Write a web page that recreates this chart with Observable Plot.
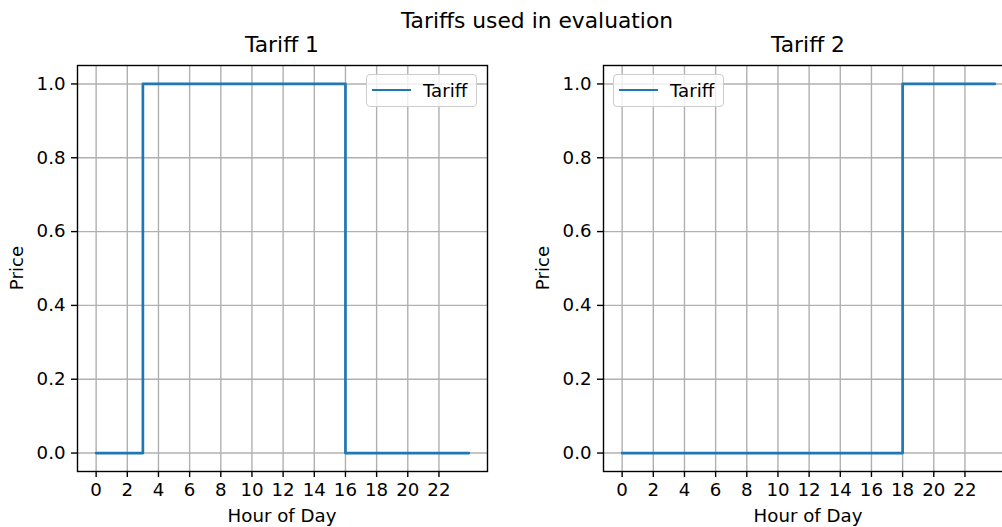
<!DOCTYPE html>
<html><head><meta charset="utf-8">
<script src="https://cdn.jsdelivr.net/npm/d3@7"></script>
<script src="https://cdn.jsdelivr.net/npm/@observablehq/plot@0.6"></script>
<style>
body{margin:0;background:#fff;}
#fig{position:relative;width:1002px;height:527px;overflow:hidden;font-family:"DejaVu Sans",sans-serif;color:#000;background:#fff;}
.t{position:absolute;white-space:nowrap;transform:translate(-50%,-50%);line-height:1;}
.panel{position:absolute;top:0;width:500px;height:527px;}
.panel svg{max-width:none !important;width:500px;height:527px;}
.legend{position:absolute;box-sizing:border-box;border:1px solid #cccccc;border-radius:4px;background:rgba(255,255,255,0.8);}
.legend .ln{position:absolute;height:2.7px;background:#1f77b4;}
.legend .lt{position:absolute;font-size:18.2px;line-height:1;transform:translateY(-50%);white-space:nowrap;}
</style></head><body><div id="fig"></div>
<script>
// ---- data ----
const suptitle = "Tariffs used in evaluation";
const panelTitles = ["Tariff 1", "Tariff 2"];
const xLabel = "Hour of Day";
const yLabel = "Price";
const seriesName = "Tariff";
const tariff1Hours = [0, 3, 16, 23.92];
const tariff1Price = [0, 1, 0, 0];
const tariff2Hours = [0, 18, 23.92];
const tariff2Price = [0, 1, 1];
const xTicks = [0, 2, 4, 6, 8, 10, 12, 14, 16, 18, 20, 22];
const yTicks = [0.0, 0.2, 0.4, 0.6, 0.8, 1.0];

const fig = document.getElementById("fig");

function panel(hours, prices) {
  const data = hours.map((h, i) => ({hour: h, price: prices[i]}));
  return Plot.plot({
    width: 500, height: 527,
    marginLeft: 77, marginRight: 13, marginTop: 65, marginBottom: 56,
    style: {fontFamily: "DejaVu Sans", fontSize: "18.2px", color: "#000", background: "transparent", overflow: "visible"},
    x: {domain: [-1.196, 25.116], label: null},
    y: {domain: [-0.05, 1.05], label: null},
    marks: [
      Plot.gridX(xTicks, {stroke: "#b0b0b0", strokeOpacity: 1, strokeWidth: 1.4}),
      Plot.gridY(yTicks, {stroke: "#b0b0b0", strokeOpacity: 1, strokeWidth: 1.4}),
      Plot.line(data, {x: "hour", y: "price", curve: "step-after", stroke: "#1f77b4", strokeWidth: 2.7}),
      Plot.frame({stroke: "#000", strokeWidth: 1.4}),
      Plot.axisX(xTicks, {tickSize: 6, tickPadding: 6, strokeWidth: 1.4, fill: "#000", label: null}),
      Plot.axisY(yTicks, {tickSize: 6, tickPadding: 6, strokeWidth: 1.4, fill: "#000", label: null, tickFormat: d3.format(".1f")})
    ]
  });
}

function addText(txt, x, y, size, rot) {
  const d = document.createElement("div");
  d.className = "t";
  d.textContent = txt;
  d.style.left = x + "px";
  d.style.top = y + "px";
  d.style.fontSize = size + "px";
  if (rot) d.style.transform = "translate(-50%,-50%) rotate(-90deg)";
  fig.appendChild(d);
}

function addLegend(left) {
  const b = document.createElement("div");
  b.className = "legend";
  b.style.left = left + "px"; b.style.top = "74px";
  b.style.width = "111px"; b.style.height = "33px";
  const ln = document.createElement("div");
  ln.className = "ln";
  ln.style.left = "5px"; ln.style.width = "39px"; ln.style.top = "13.7px";
  const lt = document.createElement("div");
  lt.className = "lt";
  lt.textContent = seriesName;
  lt.style.left = "56px"; lt.style.top = "16px";
  b.appendChild(ln); b.appendChild(lt);
  fig.appendChild(b);
}

const offsets = [0, 526];
const series = [[tariff1Hours, tariff1Price], [tariff2Hours, tariff2Price]];
series.forEach(([h, p], i) => {
  const wrap = document.createElement("div");
  wrap.className = "panel";
  wrap.style.left = offsets[i] + "px";
  wrap.appendChild(panel(h, p));
  fig.appendChild(wrap);
  const cx = offsets[i] + (77 + 487) / 2;
  addText(panelTitles[i], cx, 45, 21.8);
  addText(xLabel, cx, 516, 18.2);
  addText(yLabel, offsets[i] + 17, 268, 18.2, true);
});
addLegend(366);
addLegend(613);
addText(suptitle, 537, 21, 21.8);
</script></body></html>
